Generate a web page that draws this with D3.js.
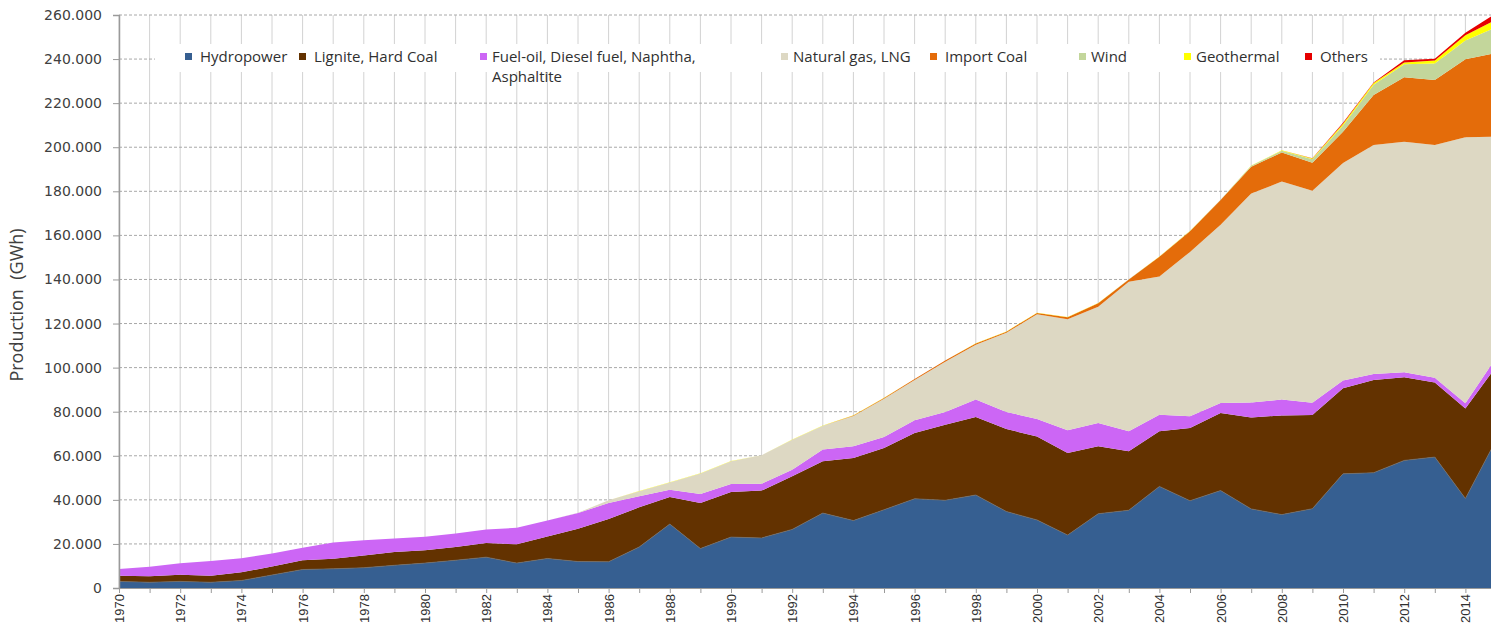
<!DOCTYPE html>
<html>
<head>
<meta charset="utf-8">
<script src="https://cdn.jsdelivr.net/npm/d3@7/dist/d3.min.js"></script>
<style>
body { margin: 0; background: #ffffff; }
</style>
</head>
<body>
<div id="my_dataviz"></div>
<script>
// data: electricity production by source, GWh, 1970 - 2015
var years = d3.range(1970, 2016);

var hydro = [3000, 2600, 3000, 2600, 3400, 5900, 8400, 8700, 9200, 10300, 11300, 12600, 14000,
  11300, 13400, 12000, 11900, 18600, 29000, 17900, 23100, 22700, 26600, 34000, 30600,
  35500, 40500, 39800, 42200, 34700, 30900, 24000, 33700, 35300, 46100,
  39600, 44200, 35900, 33300, 36000, 51800, 52300, 57900, 59400, 40600, 67100];

var coal = [2600, 2700, 3050, 3000, 3700, 3900, 4200, 4600, 5600, 6000, 5800, 6000, 6400,
  8500, 10000, 14900, 19400, 18000, 12300, 20700, 20500, 21500, 24100, 23500, 28400,
  28000, 29800, 34300, 35400, 37400, 37900, 37300, 30600, 26700, 25000,
  33000, 35200, 41500, 45000, 42500, 38800, 42100, 37700, 33800, 40900, 33300];

var fuelOil = [3000, 4300, 5150, 6700, 6400, 5800, 5700, 7300, 6900, 6200, 6200, 6100, 6200,
  7500, 7200, 7100, 7300, 5000, 3300, 4000, 3600, 3100, 3000, 5300, 5300,
  5000, 5800, 5800, 7900, 7800, 7900, 10300, 10600, 9100, 7500,
  5300, 4500, 6800, 7200, 5600, 3500, 2700, 2300, 2200, 2300, 4100];

var naturalGas = [0, 0, 0, 0, 0, 0, 0, 0, 0, 0, 0, 0, 0,
  0, 0, 100, 1200, 2300, 3300, 9400, 10300, 12900, 13600, 10800, 13800,
  17400, 18300, 22800, 24900, 35900, 47500, 50300, 52700, 67900, 62700,
  74600, 80900, 94800, 98900, 96200, 98700, 103900, 104600, 105600, 120700, 100300];

var importCoal = [0, 0, 0, 0, 0, 0, 0, 0, 0, 0, 0, 0, 0,
  0, 0, 0, 0, 0, 0, 0, 0, 0, 0, 0, 200,
  300, 400, 500, 500, 500, 600, 900, 1600, 1000, 9000,
  9400, 11200, 12200, 13200, 12700, 14200, 22700, 29200, 29500, 35400, 38000];

var wind = [0, 0, 0, 0, 0, 0, 0, 0, 0, 0, 0, 0, 0,
  0, 0, 0, 0, 0, 0, 0, 0, 0, 0, 0, 0,
  0, 0, 0, 10, 20, 30, 60, 50, 60, 60,
  60, 130, 360, 850, 1500, 2900, 4700, 5900, 7500, 8500, 11600];

var geothermal = [0, 0, 0, 0, 0, 0, 0, 0, 0, 0, 0, 0, 0,
  0, 20, 10, 40, 60, 70, 60, 80, 80, 70, 80, 80,
  90, 80, 80, 90, 80, 80, 90, 110, 90, 90,
  90, 90, 160, 160, 400, 700, 700, 900, 1400, 2400, 3400];

var others = [0, 0, 0, 0, 0, 0, 0, 0, 0, 0, 0, 0, 0,
  0, 0, 0, 0, 0, 0, 0, 0, 0, 0, 0, 0,
  0, 0, 0, 0, 0, 0, 0, 0, 0, 0,
  0, 0, 0, 0, 100, 500, 300, 1000, 800, 1200, 3000];

var seriesNames = ["Hydropower", "Lignite, Hard Coal", "Fuel-oil, Diesel fuel, Naphtha, Asphaltite",
  "Natural gas, LNG", "Import Coal", "Wind", "Geothermal", "Others"];
var seriesValues = [hydro, coal, fuelOil, naturalGas, importCoal, wind, geothermal, others];
var yTicks = d3.range(0, 260001, 20000);
var xLabelYears = d3.range(1970, 2015, 2);

// styles
var colors = ["#365f91", "#633200", "#cc66f5", "#ddd8c3", "#e46c0a", "#c3d69b", "#ffff00", "#e60000"];
var legendX = [185, 299, 480, 781, 930, 1079, 1184, 1305];

// build table for the stack
var table = years.map(function (yr, i) {
  var row = {year: yr};
  seriesNames.forEach(function (name, k) { row[name] = seriesValues[k][i]; });
  return row;
});

var width = 1491, height = 625;

var svg = d3.select("#my_dataviz")
  .append("svg")
  .attr("width", width)
  .attr("height", height)
  .style("display", "block");

var x = d3.scaleLinear()
  .domain([1970, 2015])
  .range([119, 1496]);

var y = d3.scaleLinear()
  .domain([0, 260000])
  .range([588, 15]);

var fmt = d3.formatLocale({decimal: ",", thousands: ".", grouping: [3], currency: ["", ""]}).format(",");

// vertical gridlines, every year
svg.append("g")
  .selectAll("line")
  .data(years.filter(function (d) { return d <= 2014; }))
  .enter()
  .append("line")
  .attr("x1", function (d) { return x(d); })
  .attr("x2", function (d) { return x(d); })
  .attr("y1", y(260000))
  .attr("y2", y(0))
  .attr("stroke", "#d2d2d2")
  .attr("stroke-width", 1);

// horizontal gridlines
svg.append("g")
  .selectAll("line")
  .data(yTicks.filter(function (d) { return d > 0; }))
  .enter()
  .append("line")
  .attr("x1", x(1970))
  .attr("x2", width)
  .attr("y1", function (d) { return y(d); })
  .attr("y2", function (d) { return y(d); })
  .attr("stroke", "#a8a8a8")
  .attr("stroke-width", 1)
  .attr("stroke-dasharray", "3,2");

// legend background hides the gridlines behind it
svg.append("rect")
  .attr("x", 155)
  .attr("y", 44)
  .attr("width", 1225)
  .attr("height", 28)
  .attr("fill", "#ffffff");

// stacked areas
var stack = d3.stack().keys(seriesNames);
var layers = stack(table);

var area = d3.area()
  .x(function (d) { return x(d.data.year); })
  .y0(function (d) { return y(d[0]); })
  .y1(function (d) { return y(d[1]); });

svg.append("g")
  .selectAll("path")
  .data(layers)
  .enter()
  .append("path")
  .attr("fill", function (d, i) { return colors[i]; })
  .attr("d", area);

// thin edge on top of hydropower
svg.append("path")
  .datum(layers[0])
  .attr("fill", "none")
  .attr("stroke", "#6f6f6f")
  .attr("stroke-width", 0.7)
  .attr("d", d3.line()
    .x(function (d) { return x(d.data.year); })
    .y(function (d) { return y(d[1]); }));

// Y axis
var yAxis = svg.append("g")
  .attr("transform", "translate(" + x(1970) + ",0)")
  .call(d3.axisLeft(y).tickValues(yTicks).tickFormat(fmt).tickSize(6).tickPadding(11));
yAxis.select(".domain").attr("stroke", "#9a9a9a").attr("stroke-width", 1.5);
yAxis.selectAll(".tick line").attr("stroke", "#9a9a9a");
yAxis.selectAll("text")
  .style("font-family", "'DejaVu Sans', sans-serif")
  .style("font-size", "14px")
  .attr("fill", "#404040");

// X axis
var xAxis = svg.append("g")
  .attr("transform", "translate(0," + y(0) + ")")
  .call(d3.axisBottom(x)
    .tickValues(years)
    .tickFormat(function (d) { return xLabelYears.indexOf(d) >= 0 ? String(d) : ""; })
    .tickSize(5)
    .tickSizeOuter(0));
xAxis.select(".domain").attr("stroke", "#9a9a9a").attr("stroke-width", 1.2);
xAxis.selectAll(".tick line").attr("stroke", "#9a9a9a");
xAxis.selectAll("text")
  .attr("transform", "rotate(-90)")
  .attr("text-anchor", "end")
  .attr("x", -6)
  .attr("y", 0)
  .attr("dy", "0.35em")
  .style("font-family", "'Liberation Sans Narrow', 'Arial Narrow', 'Liberation Sans', sans-serif")
  .style("font-size", "13px")
  .attr("fill", "#303030");

// Y axis title
svg.append("text")
  .attr("transform", "translate(23,305) rotate(-90)")
  .attr("text-anchor", "middle")
  .style("font-family", "'Open Sans', sans-serif")
  .style("font-size", "18px")
  .style("white-space", "pre")
  .attr("fill", "#404040")
  .text("Production  (GWh)");

// legend
var legend = svg.append("g")
  .selectAll("g")
  .data(seriesNames)
  .enter()
  .append("g")
  .attr("transform", function (d, i) { return "translate(" + legendX[i] + ",0)"; });

legend.append("rect")
  .attr("x", 0)
  .attr("y", 53)
  .attr("width", 7)
  .attr("height", 7)
  .attr("fill", function (d, i) { return colors[i]; });

legend.append("text")
  .attr("x", function (d, i) { return i === 2 || i === 3 || i === 5 || i === 6 ? 12 : 15; })
  .attr("y", 62)
  .style("font-family", "'Open Sans', sans-serif")
  .style("font-size", "15px")
  .attr("fill", "#303030")
  .each(function (d) {
    // wrap long labels onto a second line
    var el = d3.select(this);
    var words = d.split(" ");
    var line = [];
    var tspan = el.append("tspan").attr("x", el.attr("x")).attr("dy", 0);
    words.forEach(function (w) {
      line.push(w);
      tspan.text(line.join(" "));
      if (tspan.node().getComputedTextLength() > 240 && line.length > 1) {
        line.pop();
        tspan.text(line.join(" "));
        line = [w];
        tspan = el.append("tspan").attr("x", el.attr("x")).attr("dy", 20).text(w);
      }
    });
  });
</script>
</body>
</html>
